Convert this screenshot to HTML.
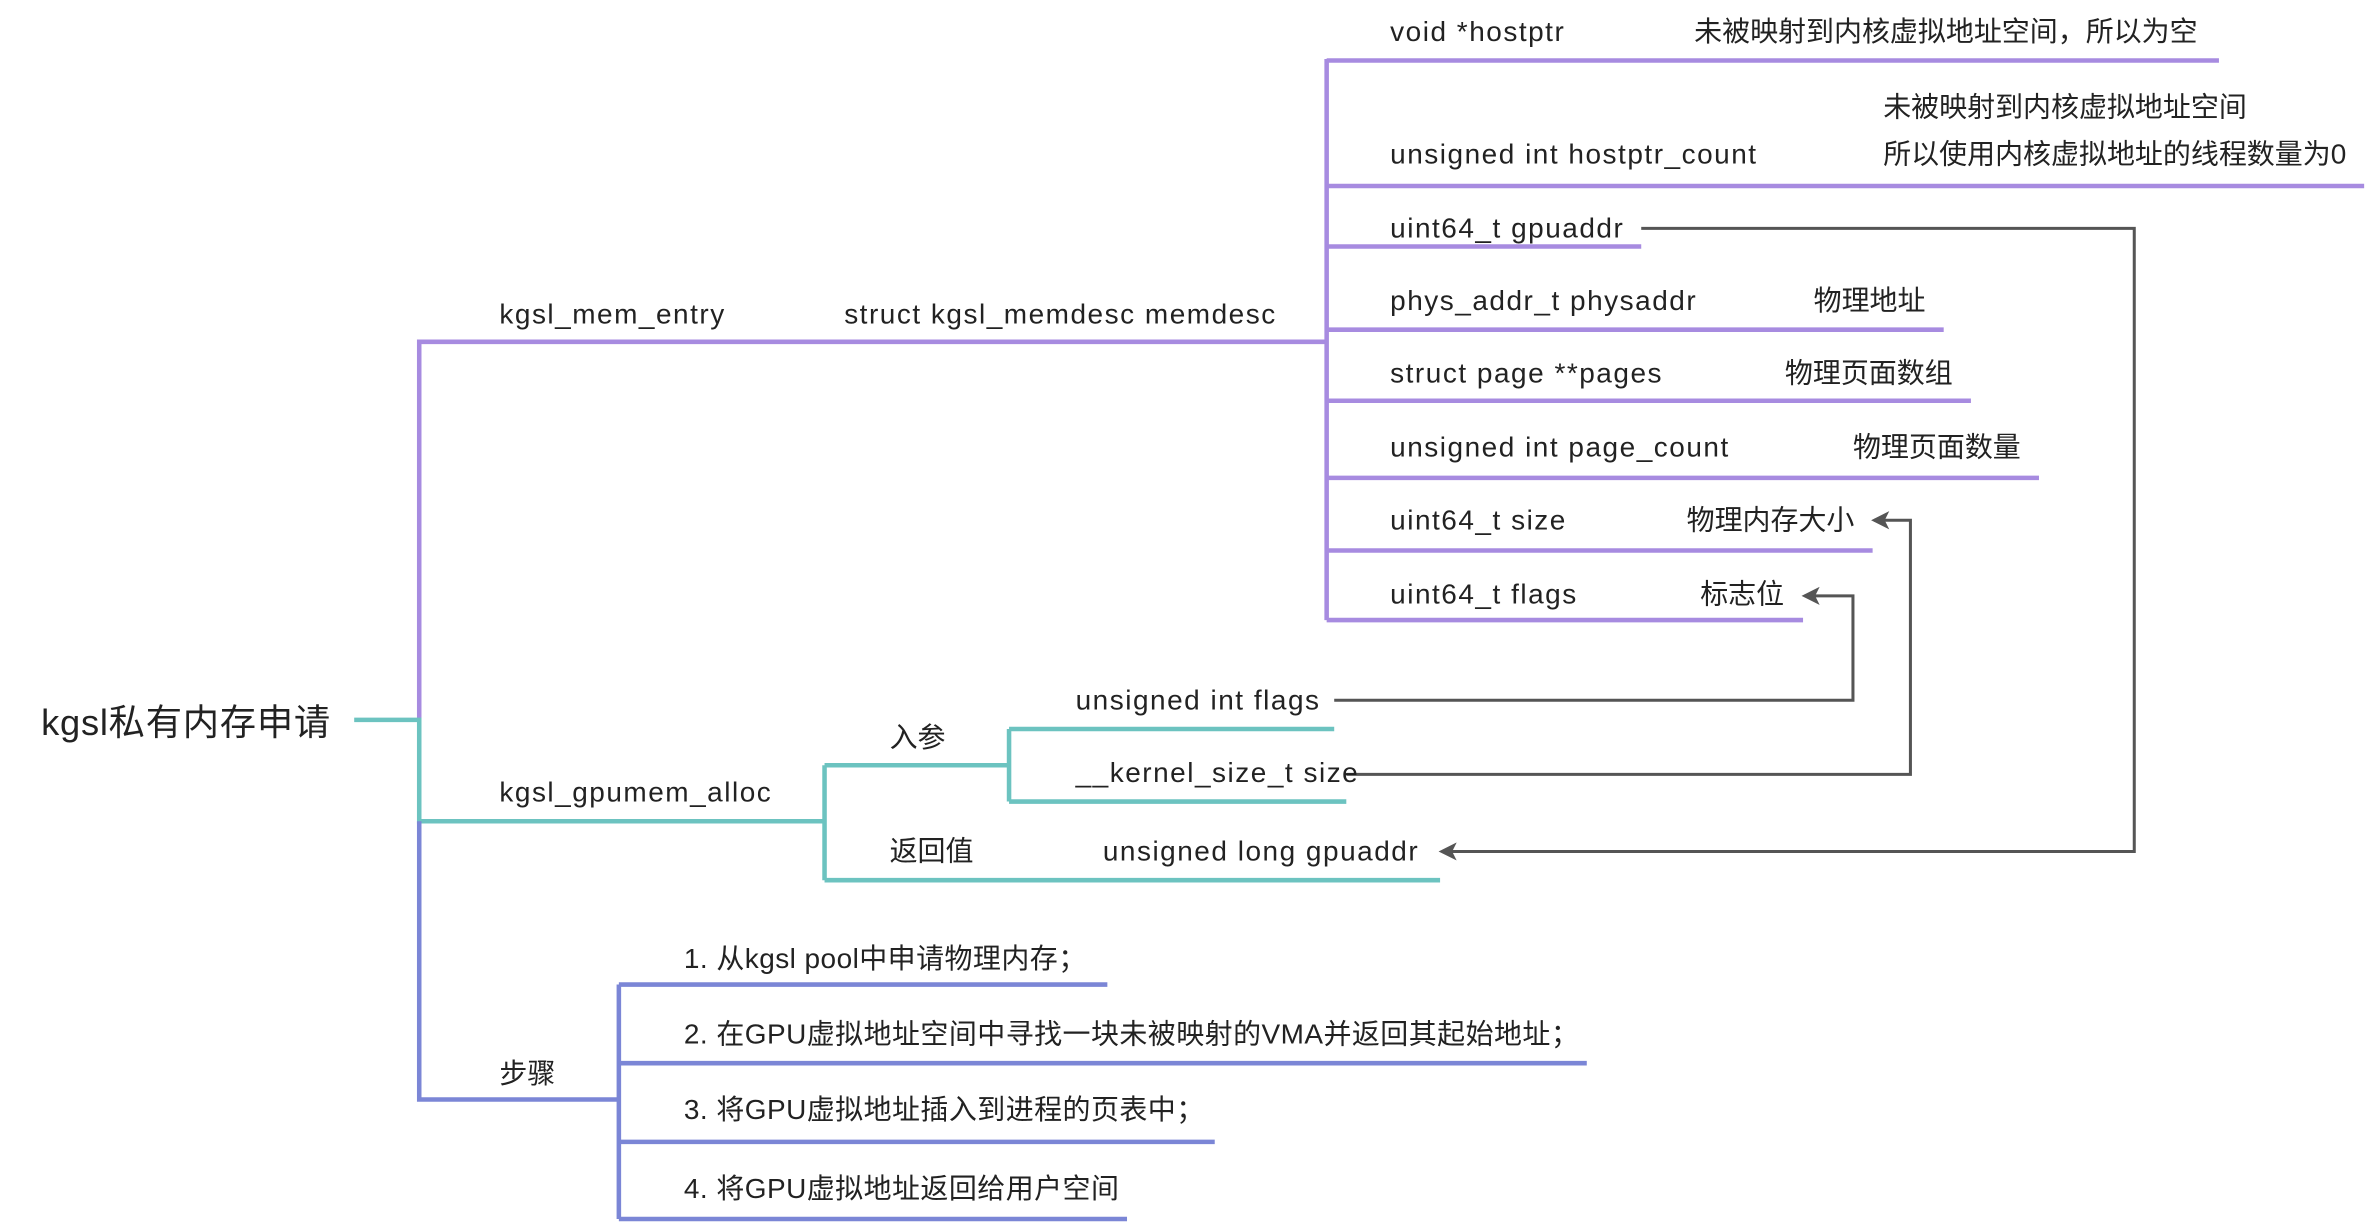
<!DOCTYPE html>
<html><head><meta charset="utf-8"><style>
html,body{margin:0;padding:0;background:#fff;}
svg{display:block;}
text{font-family:"Liberation Sans","Noto Sans CJK SC",sans-serif;font-size:18.5px;fill:#222;letter-spacing:1px;}
text.c{letter-spacing:0;}
</style></head><body>
<svg width="2372" height="1222" viewBox="0 0 1568 808" xmlns="http://www.w3.org/2000/svg">
<defs><marker id="ah" markerWidth="14" markerHeight="14" refX="10" refY="6" orient="auto" markerUnits="userSpaceOnUse"><path d="M0,0 L12,6 L0,12 L3,6 Z" fill="#555"/></marker></defs>
<g fill="none" stroke-width="3" stroke-linecap="butt">
<g stroke="#a78be0">
<path d="M277,476 V226 H877"/>
<path d="M877,39 V410"/>
<path d="M877,40 H1467"/><path d="M877,123 H1563"/><path d="M877,163 H1085"/>
<path d="M877,218 H1285"/><path d="M877,265 H1303"/><path d="M877,316 H1348"/>
<path d="M877,364 H1238"/><path d="M877,410 H1192"/>
</g>
<g stroke="#6cc3c0">
<path d="M234,476 H277 V543 H545"/>
<path d="M545,506 V582"/><path d="M545,506 H667"/><path d="M667,482 V530"/>
<path d="M667,482 H882"/><path d="M667,530 H890"/><path d="M545,582 H952"/>
</g>
<g stroke="#7b86d6">
<path d="M277,543 V727 H409"/><path d="M409,651 V806"/>
<path d="M409,651 H732"/><path d="M409,703 H1049"/><path d="M409,755 H803"/><path d="M409,806 H745"/>
</g>
<g stroke="#555" stroke-width="2">
<path d="M1085,151 H1411 V563 H953" marker-end="url(#ah)"/>
<path d="M882,463 H1225 V394 H1193" marker-end="url(#ah)"/>
<path d="M890,512 H1263 V344 H1239" marker-end="url(#ah)"/>
</g>
</g>
<text x="27" y="486" style="font-size:24px;letter-spacing:0.5px">kgsl私有内存申请</text>
<text x="330" y="214">kgsl_mem_entry</text>
<text x="558" y="214">struct kgsl_memdesc memdesc</text>
<text x="919" y="27">void *hostptr</text>
<text class="c" x="1120" y="27">未被映射到内核虚拟地址空间，所以为空</text>
<text class="c" x="1245" y="77">未被映射到内核虚拟地址空间</text>
<text x="919" y="108">unsigned int hostptr_count</text>
<text class="c" x="1245" y="108">所以使用内核虚拟地址的线程数量为0</text>
<text x="919" y="157">uint64_t gpuaddr</text>
<text x="919" y="205">phys_addr_t physaddr</text>
<text class="c" x="1199" y="205">物理地址</text>
<text x="919" y="253">struct page **pages</text>
<text class="c" x="1180" y="253">物理页面数组</text>
<text x="919" y="302">unsigned int page_count</text>
<text class="c" x="1225" y="302">物理页面数量</text>
<text x="919" y="350">uint64_t size</text>
<text class="c" x="1115" y="350">物理内存大小</text>
<text x="919" y="399">uint64_t flags</text>
<text class="c" x="1124" y="399">标志位</text>
<text x="330" y="530">kgsl_gpumem_alloc</text>
<text class="c" x="588" y="494">入参</text>
<text class="c" x="588" y="569">返回值</text>
<text x="711" y="469">unsigned int flags</text>
<text x="711" y="517">__kernel_size_t size</text>
<text x="729" y="569">unsigned long gpuaddr</text>
<text class="c" x="330" y="716">步骤</text>
<text x="452" y="640" style="letter-spacing:0.3px">1. 从kgsl pool中申请物理内存；</text>
<text x="452" y="690" style="letter-spacing:0.3px">2. 在GPU虚拟地址空间中寻找一块未被映射的VMA并返回其起始地址；</text>
<text x="452" y="740" style="letter-spacing:0.3px">3. 将GPU虚拟地址插入到进程的页表中；</text>
<text x="452" y="792" style="letter-spacing:0.3px">4. 将GPU虚拟地址返回给用户空间</text>
</svg>
</body></html>
